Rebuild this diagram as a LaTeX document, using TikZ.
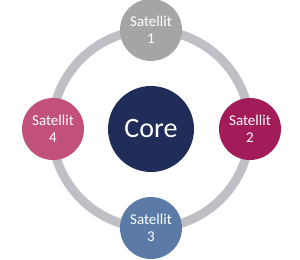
\documentclass[tikz,border=0pt]{standalone}
\usepackage{fontspec}
\setmainfont{Carlito}
\definecolor{ringgray}{HTML}{BFC0C5}
\definecolor{sat1}{HTML}{A5A5A5}
\definecolor{sat2}{HTML}{A21C5A}
\definecolor{sat3}{HTML}{5B7BA6}
\definecolor{sat4}{HTML}{C1507B}
\definecolor{corecol}{HTML}{1F2D58}
\begin{document}
\begin{tikzpicture}[x=1bp,y=-1bp,
  satnode/.style={circle, minimum size=62bp, inner sep=0pt, text=white, align=center,
    font=\fontsize{15bp}{16.5bp}\selectfont},
  corenode/.style={circle, minimum size=86bp, inner sep=0pt, fill=corecol, text=white,
    font=\fontsize{28bp}{32bp}\selectfont},
  ringline/.style={draw=ringgray, line width=9bp}]
\useasboundingbox (0,0) rectangle (300,260);
\coordinate (c) at (151,129);
\draw[ringline] (c) circle[radius=99];
\node[corenode] (core) at (c) {Core};
\node[satnode, fill=sat1] (s1) at (151,30) {Satellit\\1};
\node[satnode, fill=sat2] (s2) at (250,129) {Satellit\\2};
\node[satnode, fill=sat3] (s3) at (151,228) {Satellit\\3};
\node[satnode, fill=sat4] (s4) at (53,129) {Satellit\\4};
\end{tikzpicture}
\end{document}
